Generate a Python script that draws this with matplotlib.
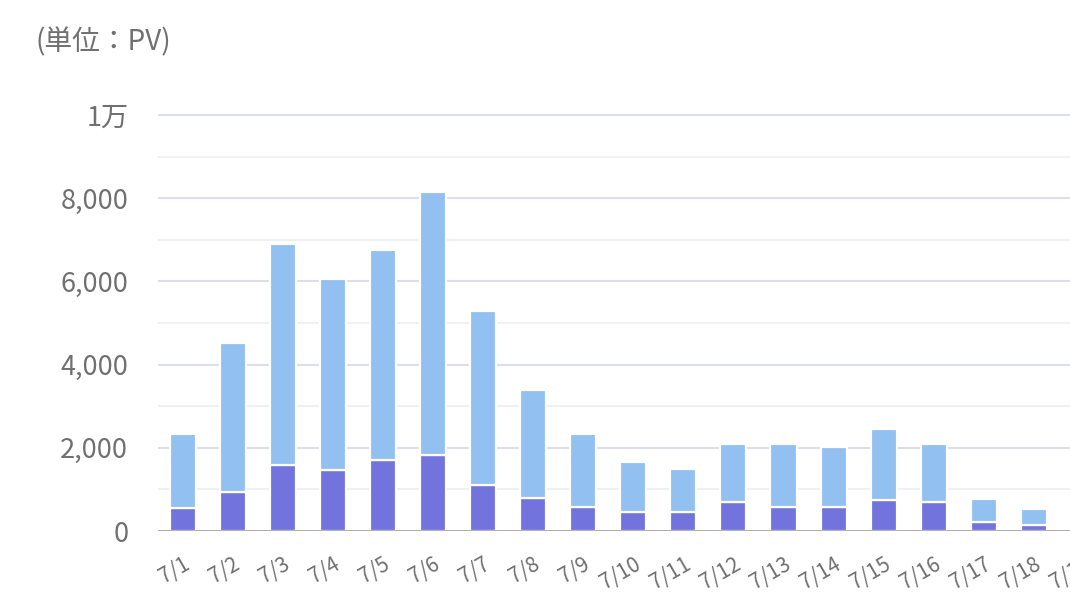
import matplotlib
matplotlib.use("Agg")
import matplotlib.pyplot as plt
import numpy as np

plt.rcParams['font.family'] = ['Noto Sans CJK JP', 'DejaVu Sans']

# -----------------------------------------------------------
# data
# -----------------------------------------------------------
days = ['7/1', '7/2', '7/3', '7/4', '7/5', '7/6', '7/7', '7/8', '7/9', '7/10',
        '7/11', '7/12', '7/13', '7/14', '7/15', '7/16', '7/17', '7/18', '7/19']
pv_bottom = [560, 930, 1580, 1465, 1700, 1815, 1110, 800, 570, 455,
             455, 690, 570, 570, 750, 690, 215, 150, 0]
pv_top = [1760, 3590, 5320, 4595, 5060, 6325, 4180, 2590, 1750, 1205,
          1030, 1395, 1515, 1450, 1695, 1395, 555, 386, 0]
y_ticks = [0, 2000, 4000, 6000, 8000, 10000]
y_labels = ['0', '2,000', '4,000', '6,000', '8,000', '1万']
y_minor = [1000, 3000, 5000, 7000, 9000]

dark = '#7373DD'
light = '#92C1F1'
text_col = '#707070'

fig = plt.figure(figsize=(10.7, 5.95), dpi=100)
ax = fig.add_axes([157.5 / 1070, 64 / 595, (1109 - 157.5) / 1070, (531 - 110) / 595])

x = np.arange(len(days))
ax.bar(x, pv_bottom, width=0.52, color=dark, edgecolor='white', linewidth=1.6, zorder=2)
ax.bar(x, pv_top, width=0.52, bottom=pv_bottom, color=light, edgecolor='white',
       linewidth=1.6, zorder=2)

ax.set_xlim(-0.5, len(days) - 0.5)
ax.set_ylim(0, 10120)

ax.set_yticks(y_ticks)
ax.set_yticklabels(y_labels)
ax.set_yticks(y_minor, minor=True)
ax.grid(axis='y', which='major', color='#DCDFE8', linewidth=1.5, zorder=0)
ax.grid(axis='y', which='minor', color='#EEF0F4', linewidth=1.5, zorder=0)
ax.axhline(0, color='#A8A8A8', linewidth=2, zorder=3)

ax.set_xticks(x)
ax.set_xticklabels(days, rotation=30, ha='right', va='top', rotation_mode='anchor')

ax.tick_params(axis='y', which='both', length=0, pad=21, labelsize=19.5, labelcolor=text_col)
ax.tick_params(axis='x', length=0, pad=16, labelsize=15, labelcolor=text_col)

for s in ax.spines.values():
    s.set_visible(False)

fig.text(36 / 1070, 1 - 42 / 595, '(単位：PV)', fontsize=20, color=text_col,
         ha='left', va='center')

fig.savefig('out.png', dpi=100)
